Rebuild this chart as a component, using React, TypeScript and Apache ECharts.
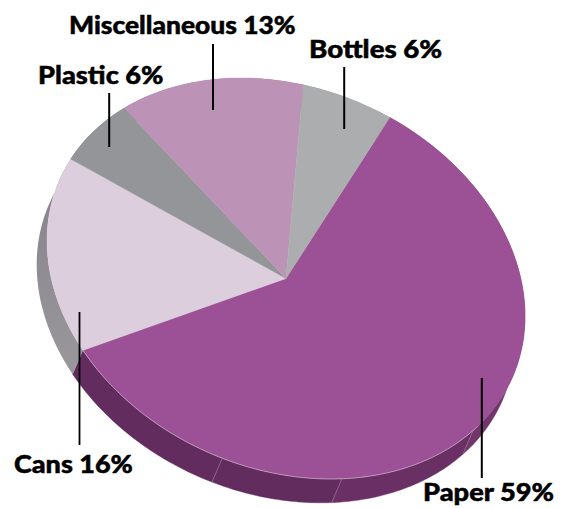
import React, { useEffect, useRef } from "react";
import * as echarts from "echarts";

const categories = ["Paper", "Cans", "Plastic", "Miscellaneous", "Bottles"];
const shares = [59, 16, 6, 13, 6];
const topColors = ["#9c5095", "#dccedd", "#939598", "#bc92b6", "#abadaf"];
const sideColors = ["#622c5e", "#8c888e", "#6f6f72", "#8a6a86", "#808284"];

// Angles (degrees along the pie's own circle, clockwise from its major axis)
const START_ANGLE = -82.7;
const paperSeams = [20, 58, 87];
const paperFacetColors = ["#723569", "#6a3066", "#622c5e", "#622c5e"];

// Tilted ellipse of the pie's top face
const CX = 286;
const CY = 278.5;
const A = 247;
const B = 190.5;
const TILT = (23.4 * Math.PI) / 180;
const DEPTH = 26;
const OFF_X = -Math.sin(TILT) * DEPTH;
const OFF_Y = Math.cos(TILT) * DEPTH;

const pt = (deg: number, dx = 0, dy = 0): number[] => {
  const t = (deg * Math.PI) / 180;
  const u = A * Math.cos(t);
  const v = B * Math.sin(t);
  return [CX + u * Math.cos(TILT) - v * Math.sin(TILT) + dx, CY + u * Math.sin(TILT) + v * Math.cos(TILT) + dy];
};

const arcPts = (a0: number, a1: number, dx = 0, dy = 0): number[][] => {
  const n = Math.max(2, Math.ceil(Math.abs(a1 - a0)));
  const out: number[][] = [];
  for (let i = 0; i <= n; i++) out.push(pt(a0 + ((a1 - a0) * i) / n, dx, dy));
  return out;
};

const sliceRange = (i: number): number[] => {
  const before = shares.slice(0, i).reduce((s, v) => s + v, 0);
  const total = shares.reduce((s, v) => s + v, 0);
  return [START_ANGLE + (before / total) * 360, START_ANGLE + ((before + shares[i]) / total) * 360];
};

const sidePoly = (a0: number, a1: number): number[][] => [
  ...arcPts(a0, a1),
  ...arcPts(a1, a0, OFF_X, OFF_Y),
];

const renderSide = (_p: any, api: any) => {
  const i = api.value(1);
  const [a0, a1] = sliceRange(i);
  const fill = sideColors[i];
  if (i !== 0) {
    return {
      type: "polygon",
      shape: { points: sidePoly(a0, a1) },
      style: {
        fill:
          i === 1
            ? new echarts.graphic.LinearGradient(0, 0, 0, 1, [
                { offset: 0, color: "#85818a" },
                { offset: 1, color: "#9a979c" },
              ])
            : fill,
      },
    };
  }
  // The paper slice's rim is made of slightly different facets, split by pale seams.
  const cuts = [a0, ...paperSeams, a1];
  const children: any[] = [];
  for (let k = 0; k < cuts.length - 1; k++) {
    children.push({
      type: "polygon",
      shape: { points: sidePoly(cuts[k], cuts[k + 1]) },
      style: { fill: paperFacetColors[k], stroke: paperFacetColors[k], lineWidth: 0.4 },
    });
  }
  paperSeams.forEach((s) => {
    const p = pt(s);
    const q = pt(s, OFF_X, OFF_Y);
    children.push({
      type: "line",
      shape: { x1: p[0], y1: p[1], x2: q[0], y2: q[1] },
      style: { stroke: "#9d7a9c", lineWidth: 0.6 },
    });
  });
  return { type: "group", children };
};

const renderTop = (_p: any, api: any) => {
  const i = api.value(1);
  const [a0, a1] = sliceRange(i);
  const children: any[] = [
    {
      type: "polygon",
      shape: { points: [[CX, CY], ...arcPts(a0, a1)] },
      style: { fill: topColors[i], stroke: topColors[i], lineWidth: 0.4 },
    },
  ];
  if (i === 0) {
    children.push({
      type: "polyline",
      shape: { points: arcPts(18, a1) },
      style: { fill: "none", stroke: "#cdb0c9", lineWidth: 0.7 },
    });
  }
  return { type: "group", children };
};

const labels = [
  { name: "Miscellaneous", x: 69, y: 24, sx: 1.056, line: [213, 44, 110], lw: 2 },
  { name: "Plastic", x: 38, y: 74, sx: 1.087, line: [109.2, 93, 147], lw: 2 },
  { name: "Bottles", x: 309, y: 49, sx: 1.108, line: [344.2, 67, 129], lw: 2 },
  { name: "Cans", x: 14, y: 463, sx: 1.08, line: [79.5, 312, 445], lw: 1.8 },
  { name: "Paper", x: 423, y: 491, sx: 1.09, line: [481.8, 378, 478], lw: 2 },
];

export default function App() {
  const ref = useRef<HTMLDivElement>(null);
  useEffect(() => {
    document.body.style.margin = "0";
    const chart = echarts.init(ref.current!, undefined, { renderer: "svg" });
    const rows = shares.map((v, i) => [v, i]);
    chart.setOption({
      animation: false,
      backgroundColor: "#ffffff",
      tooltip: { show: false },
      series: [
        { type: "custom", coordinateSystem: "none", renderItem: renderSide, data: rows, z: 1, silent: true },
        { type: "custom", coordinateSystem: "none", renderItem: renderTop, data: rows, z: 2, silent: true },
      ],
      graphic: labels.flatMap((l) => [
        {
          type: "line",
          z: 10,
          shape: { x1: l.line[0], y1: l.line[1], x2: l.line[0], y2: l.line[2] },
          style: { stroke: "#000000", lineWidth: l.lw },
        },
        {
          type: "text",
          z: 11,
          x: l.x,
          y: l.y,
          scaleX: l.sx,
          style: {
            text: `${l.name} ${shares[categories.indexOf(l.name)]}%`,
            font: '900 25px Lato, "Open Sans", sans-serif',
            fill: "#000000",
            stroke: "#000000",
            lineWidth: 0.5,
            verticalAlign: "middle",
          },
        },
      ]),
    });
    return () => chart.dispose();
  }, []);
  return <div ref={ref} style={{ width: 564, height: 508 }} />;
}
